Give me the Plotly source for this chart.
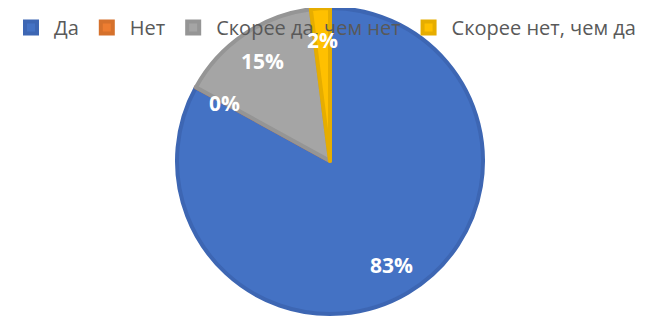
import math
import plotly.graph_objects as go

labels = ["Да", "Нет", "Скорее да, чем нет", "Скорее нет, чем да"]
values = [83, 0, 15, 2]
text_labels = ["83%", "0%", "15%", "2%"]
colors = ["#4472C4", "#ED7D31", "#A5A5A5", "#FFC000"]
edge_colors = ["#3D66B3", "#D5712C", "#959595", "#E6AD00"]

W, H = 660, 317
cx, cy, R = 322, 153, 153  # pie centre/radius in figure pixels

fig = go.Figure(go.Pie(
    labels=labels, values=values, sort=False, direction="clockwise", rotation=0,
    marker=dict(colors=colors, line=dict(color=edge_colors, width=4)),
    textinfo="none", hoverinfo="label+percent",
    domain=dict(x=[(cx - R) / W, (cx + R) / W], y=[max(0, (H - cy - R) / H), min(1, (H - cy + R) / H)]),
))

total = sum(values)
cum = 0
anns = []
for v, t in zip(values, text_labels):
    mid = (cum + v / 2) / total * 2 * math.pi
    cum += v
    px = cx + 0.79 * R * math.sin(mid)
    py = cy - 0.79 * R * math.cos(mid)
    anns.append(dict(x=px / W, y=1 - py / H, xref="paper", yref="paper", text=t, showarrow=False,
                     xanchor="center", yanchor="middle",
                     font=dict(family="Open Sans", size=21, color="white", weight="bold")))

fig.update_layout(
    width=W, height=H, margin=dict(l=0, r=0, t=0, b=0),
    paper_bgcolor="white", plot_bgcolor="white",
    annotations=anns,
    legend=dict(orientation="h", x=0, y=1, xanchor="left", yanchor="top",
                font=dict(family="Open Sans", size=20, color="#595959"),
                bgcolor="rgba(0,0,0,0)", itemwidth=36, traceorder="normal"),
    showlegend=True,
)
fig.write_html("out.html")
